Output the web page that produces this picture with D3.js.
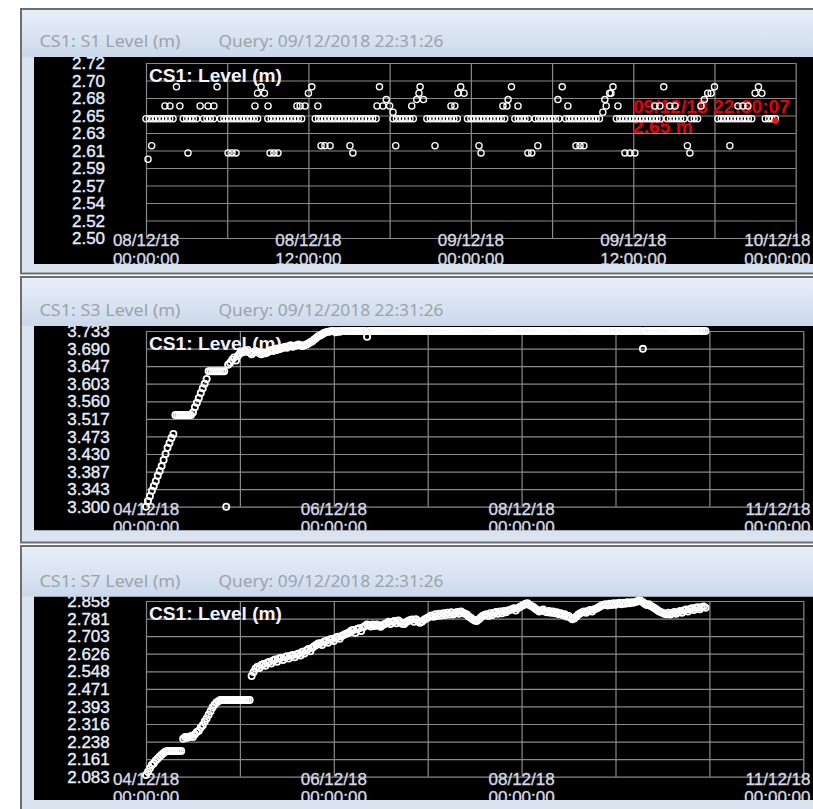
<!DOCTYPE html>
<html>
<head>
<meta charset="utf-8">
<script src="https://cdn.jsdelivr.net/npm/d3@7/dist/d3.min.js"></script>
<style>
  html, body { margin: 0; padding: 0; background: #ffffff; }
  svg { display: block; }
  .win-title { font-family: "Noto Sans", "Open Sans", sans-serif; font-size: 16px; fill: #9da2a9; }
  .y-lbl { font-family: "Liberation Sans", Arial, sans-serif; font-size: 17px; fill: #eef0fa; stroke: #dfe4f6; stroke-width: 0.4; }
  .x-lbl { font-family: "Liberation Sans", Arial, sans-serif; font-size: 17px; fill: #d9dbe6; stroke: #cfd3e2; stroke-width: 0.35; }
  .plot-title { font-family: "Liberation Sans", Arial, sans-serif; font-size: 18px; font-weight: bold; fill: #f2f3ff; }
  .cursor-lbl { font-family: "Liberation Sans", Arial, sans-serif; font-size: 18px; font-weight: bold; fill: #e3000b; }
</style>
</head>
<body>
<svg id="chart" width="813" height="809"></svg>
<script>
// =====================
// DATA
// =====================
const queryStamp = "Query: 09/12/2018 22:31:26";
const plotTitle = "CS1: Level (m)";

// S1: regular reading every 15 minutes from 08/12/18 00:00
const s1Start = "2018-12-08T00:00:00";
const s1End = "2018-12-10T00:00:00";
const s1StepMinutes = 15;
const s1Values = [
  2.650, 2.650, 2.650, 2.650, 2.650, 2.650, 2.650, 2.650, 2.650, 2.690,
  2.666, 2.650, 2.650, 2.650, 2.650, 2.650, 2.666, 2.650, 2.650, 2.650,
  2.650, 2.690, 2.650, 2.650, 2.650, 2.650, 2.650, 2.650, 2.650, 2.650,
  2.650, 2.650, 2.650, 2.650, 2.690, 2.682, 2.650, 2.650, 2.650, 2.650,
  2.650, 2.650, 2.650, 2.650, 2.650, 2.650, 2.650, 2.666, 2.682, 2.690,
  2.650, 2.650, 2.650, 2.650, 2.650, 2.650, 2.650, 2.650, 2.650, 2.650,
  2.650, 2.650, 2.650, 2.650, 2.650, 2.650, 2.650, 2.650, 2.650, 2.690,
  2.666, 2.674, 2.666, 2.650, 2.650, 2.650, 2.650, 2.650, 2.650, 2.650,
  2.674, 2.690, 2.674, 2.650, 2.650, 2.650, 2.650, 2.650, 2.650, 2.650,
  2.650, 2.650, 2.650, 2.690, 2.682, 2.650, 2.650, 2.650, 2.650, 2.650,
  2.650, 2.650, 2.650, 2.650, 2.650, 2.650, 2.650, 2.674, 2.690, 2.650,
  2.650, 2.650, 2.650, 2.650, 2.607, 2.650, 2.650, 2.650, 2.650, 2.650,
  2.650, 2.650, 2.650, 2.690, 2.650, 2.650, 2.650, 2.650, 2.650, 2.650,
  2.650, 2.650, 2.650, 2.650, 2.650, 2.658, 2.666, 2.682, 2.690, 2.650,
  2.650, 2.650, 2.650, 2.650, 2.650, 2.650, 2.650, 2.650, 2.650, 2.650,
  2.650, 2.650, 2.650, 2.690, 2.650, 2.650, 2.650, 2.650, 2.650, 2.650,
  2.616, 2.650, 2.650, 2.650, 2.666, 2.674, 2.682, 2.682, 2.690, 2.650,
  2.650, 2.650, 2.650, 2.650, 2.650, 2.650, 2.650, 2.650, 2.650, 2.650,
  2.682, 2.690, 2.682, 2.650, 2.650, 2.650, 2.650
];
// S1: extra readings logged between the regular ones
const s1ExtraTimes = [
  "2018-12-08T00:09:00", "2018-12-08T00:25:00", "2018-12-08T01:24:00", "2018-12-08T01:46:00",
  "2018-12-08T03:06:00", "2018-12-08T04:35:00", "2018-12-08T05:01:00", "2018-12-08T06:04:00",
  "2018-12-08T06:21:00", "2018-12-08T06:39:00", "2018-12-08T08:03:00", "2018-12-08T08:14:00",
  "2018-12-08T09:01:00", "2018-12-08T09:10:00", "2018-12-08T09:27:00", "2018-12-08T09:45:00",
  "2018-12-08T11:09:00", "2018-12-08T11:23:00", "2018-12-08T12:42:00", "2018-12-08T12:56:00",
  "2018-12-08T13:13:00", "2018-12-08T13:36:00", "2018-12-08T15:04:00", "2018-12-08T15:17:00",
  "2018-12-08T17:04:00", "2018-12-08T18:15:00", "2018-12-08T18:27:00", "2018-12-08T19:38:00",
  "2018-12-08T20:10:00", "2018-12-08T21:21:00", "2018-12-08T22:32:00", "2018-12-08T22:49:00",
  "2018-12-08T23:03:00", "2018-12-09T00:36:00", "2018-12-09T00:45:00", "2018-12-09T02:22:00",
  "2018-12-09T02:40:00", "2018-12-09T03:29:00", "2018-12-09T04:13:00", "2018-12-09T04:57:00",
  "2018-12-09T06:26:00", "2018-12-09T07:10:00", "2018-12-09T07:46:00", "2018-12-09T08:04:00",
  "2018-12-09T08:21:00", "2018-12-09T09:54:00", "2018-12-09T10:21:00", "2018-12-09T10:52:00",
  "2018-12-09T11:23:00", "2018-12-09T11:45:00", "2018-12-09T12:07:00", "2018-12-09T13:36:00",
  "2018-12-09T13:58:00", "2018-12-09T14:42:00", "2018-12-09T15:05:00", "2018-12-09T16:11:00",
  "2018-12-09T19:08:00", "2018-12-09T19:44:00", "2018-12-09T20:06:00", "2018-12-09T20:28:00"
];
const s1ExtraValues = [
  2.599, 2.616, 2.666, 2.666,
  2.607, 2.666, 2.666, 2.607,
  2.607, 2.607, 2.666, 2.682,
  2.666, 2.607, 2.607, 2.607,
  2.666, 2.666, 2.666, 2.616,
  2.616, 2.616, 2.616, 2.607,
  2.666, 2.658, 2.616, 2.666,
  2.682, 2.616, 2.666, 2.666,
  2.682, 2.616, 2.607, 2.666,
  2.666, 2.666, 2.607, 2.616,
  2.674, 2.666, 2.616, 2.616,
  2.616, 2.674, 2.682, 2.666,
  2.607, 2.607, 2.607, 2.666,
  2.666, 2.666, 2.666, 2.607,
  2.616, 2.666, 2.666, 2.666
];
const s1YDomain = [2.50, 2.72];
const s1YLabels = ["2.50", "2.52", "2.54", "2.57", "2.59", "2.61", "2.63", "2.65", "2.68", "2.70", "2.72"];
const s1XLabelTimes = ["2018-12-08T00:00:00", "2018-12-08T12:00:00", "2018-12-09T00:00:00", "2018-12-09T12:00:00", "2018-12-10T00:00:00"];
const s1Cursor = { time: "2018-12-09T22:30:07", value: 2.65, label: "09/12/18 22:30:07", valueLabel: "2.65 m" };

// S3 and S7: one reading every 30 minutes from 04/12/18 00:00
const weekStart = "2018-12-04T00:00:00";
const weekEnd = "2018-12-11T00:00:00";
const weekStepMinutes = 30;
const s3Values = [
  3.300, 3.314, 3.326, 3.339, 3.351, 3.363, 3.376, 3.388, 3.400, 3.415,
  3.430, 3.445, 3.457, 3.469, 3.479, 3.526, 3.526, 3.526, 3.526, 3.526,
  3.526, 3.526, 3.526, 3.526, 3.532, 3.545, 3.556, 3.568, 3.580, 3.592,
  3.603, 3.615, 3.634, 3.634, 3.634, 3.634, 3.634, 3.634, 3.634, 3.634,
  3.634, 3.300, 3.650, 3.655, 3.662, 3.668, 3.660, 3.672, 3.678, 3.680,
  3.684, 3.682, 3.686, 3.680, 3.676, 3.680, 3.684, 3.682, 3.678, 3.676,
  3.680, 3.678, 3.680, 3.684, 3.686, 3.684, 3.688, 3.690, 3.688, 3.690,
  3.692, 3.694, 3.692, 3.696, 3.698, 3.694, 3.696, 3.698, 3.700, 3.698,
  3.696, 3.698, 3.700, 3.702, 3.705, 3.708, 3.712, 3.716, 3.720, 3.722,
  3.725, 3.728, 3.730, 3.731, 3.732, 3.733, 3.733, 3.730, 3.733, 3.731,
  3.733, 3.733, 3.733, 3.733, 3.733, 3.733, 3.733, 3.733, 3.733, 3.733,
  3.733, 3.733, 3.733, 3.719, 3.733, 3.733, 3.733, 3.733, 3.733, 3.733,
  3.733, 3.733, 3.733, 3.733, 3.733, 3.733, 3.733, 3.733, 3.733, 3.733,
  3.733, 3.733, 3.733, 3.733, 3.733, 3.733, 3.733, 3.733, 3.733, 3.733,
  3.733, 3.733, 3.733, 3.733, 3.733, 3.733, 3.733, 3.733, 3.733, 3.733,
  3.733, 3.733, 3.733, 3.733, 3.733, 3.733, 3.733, 3.733, 3.733, 3.733,
  3.733, 3.733, 3.733, 3.733, 3.733, 3.733, 3.733, 3.733, 3.733, 3.733,
  3.733, 3.733, 3.733, 3.733, 3.733, 3.733, 3.733, 3.733, 3.733, 3.733,
  3.733, 3.733, 3.733, 3.733, 3.733, 3.733, 3.733, 3.733, 3.733, 3.733,
  3.733, 3.733, 3.733, 3.733, 3.733, 3.733, 3.733, 3.733, 3.733, 3.733,
  3.733, 3.733, 3.733, 3.733, 3.733, 3.733, 3.733, 3.733, 3.733, 3.733,
  3.733, 3.733, 3.733, 3.733, 3.733, 3.733, 3.733, 3.733, 3.733, 3.733,
  3.733, 3.733, 3.733, 3.733, 3.733, 3.733, 3.733, 3.733, 3.733, 3.733,
  3.733, 3.733, 3.733, 3.733, 3.733, 3.733, 3.733, 3.733, 3.733, 3.733,
  3.733, 3.733, 3.733, 3.733, 3.733, 3.733, 3.733, 3.733, 3.733, 3.733,
  3.733, 3.733, 3.733, 3.733, 3.689, 3.733, 3.733, 3.733, 3.733, 3.733,
  3.733, 3.733, 3.733, 3.733, 3.733, 3.733, 3.733, 3.733, 3.733, 3.733,
  3.733, 3.733, 3.733, 3.733, 3.733, 3.733, 3.733, 3.733, 3.733, 3.733,
  3.733, 3.733, 3.733, 3.733, 3.733, 3.733, 3.733
];
const s3YDomain = [3.300, 3.733];
const s3YLabels = ["3.300", "3.343", "3.387", "3.430", "3.473", "3.517", "3.560", "3.603", "3.647", "3.690", "3.733"];

const s7Values = [
  2.090, 2.105, 2.120, 2.135, 2.142, 2.155, 2.163, 2.172, 2.180, 2.188,
  2.194, 2.196, 2.196, 2.196, 2.196, 2.196, 2.196, 2.196, 2.196, 2.250,
  2.258, 2.255, 2.258, 2.262, 2.258, 2.270, 2.280, 2.286, 2.300, 2.310,
  2.326, 2.340, 2.356, 2.372, 2.388, 2.400, 2.410, 2.416, 2.421, 2.421,
  2.421, 2.421, 2.421, 2.421, 2.421, 2.421, 2.421, 2.421, 2.421, 2.421,
  2.421, 2.421, 2.421, 2.421, 2.527, 2.545, 2.560, 2.568, 2.562, 2.576,
  2.580, 2.572, 2.586, 2.590, 2.582, 2.596, 2.600, 2.590, 2.604, 2.608,
  2.598, 2.610, 2.614, 2.604, 2.616, 2.620, 2.610, 2.622, 2.626, 2.618,
  2.634, 2.626, 2.640, 2.646, 2.636, 2.652, 2.658, 2.664, 2.670, 2.672,
  2.664, 2.678, 2.682, 2.674, 2.688, 2.690, 2.682, 2.696, 2.700, 2.692,
  2.704, 2.708, 2.712, 2.716, 2.720, 2.728, 2.730, 2.718, 2.734, 2.738,
  2.726, 2.742, 2.748, 2.754, 2.752, 2.746, 2.754, 2.748, 2.754, 2.750,
  2.744, 2.752, 2.756, 2.760, 2.766, 2.756, 2.766, 2.770, 2.760, 2.772,
  2.764, 2.758, 2.756, 2.764, 2.770, 2.774, 2.776, 2.766, 2.778, 2.770,
  2.762, 2.766, 2.774, 2.780, 2.784, 2.790, 2.794, 2.788, 2.800, 2.792,
  2.802, 2.794, 2.804, 2.796, 2.806, 2.798, 2.808, 2.798, 2.804, 2.810,
  2.802, 2.812, 2.806, 2.802, 2.798, 2.790, 2.784, 2.778, 2.772, 2.770,
  2.776, 2.784, 2.792, 2.796, 2.800, 2.792, 2.804, 2.796, 2.806, 2.810,
  2.802, 2.812, 2.804, 2.814, 2.808, 2.816, 2.818, 2.822, 2.826, 2.816,
  2.826, 2.832, 2.836, 2.840, 2.846, 2.848, 2.840, 2.836, 2.832, 2.824,
  2.818, 2.812, 2.816, 2.820, 2.812, 2.808, 2.814, 2.806, 2.812, 2.804,
  2.808, 2.800, 2.804, 2.796, 2.800, 2.790, 2.792, 2.784, 2.778, 2.782,
  2.790, 2.798, 2.804, 2.808, 2.812, 2.806, 2.814, 2.818, 2.812, 2.820,
  2.824, 2.828, 2.834, 2.838, 2.842, 2.844, 2.838, 2.846, 2.840, 2.848,
  2.842, 2.848, 2.850, 2.844, 2.850, 2.846, 2.852, 2.848, 2.852, 2.850,
  2.854, 2.856, 2.862, 2.858, 2.852, 2.846, 2.840, 2.844, 2.836, 2.832,
  2.826, 2.820, 2.814, 2.810, 2.806, 2.802, 2.800, 2.806, 2.798, 2.804,
  2.810, 2.802, 2.808, 2.814, 2.806, 2.816, 2.820, 2.812, 2.822, 2.826,
  2.818, 2.828, 2.830, 2.822, 2.830, 2.834, 2.828
];
const s7YDomain = [2.083, 2.858];
const s7YLabels = ["2.083", "2.161", "2.238", "2.316", "2.393", "2.471", "2.548", "2.626", "2.703", "2.781", "2.858"];

const weekXLabelTimes = ["2018-12-04T00:00:00", "2018-12-06T00:00:00", "2018-12-08T00:00:00", "2018-12-11T00:00:00"];

// =====================
// HELPERS
// =====================
const parseTime = d3.timeParse("%Y-%m-%dT%H:%M:%S");
const fmtDate = d3.timeFormat("%d/%m/%y");
const fmtClock = d3.timeFormat("%H:%M:%S");

function toPoints(start, stepMinutes, values) {
  const t0 = parseTime(start);
  return values.map((v, i) => ({ t: d3.timeMinute.offset(t0, i * stepMinutes), v }));
}

const s1Points = toPoints(s1Start, s1StepMinutes, s1Values)
  .concat(s1ExtraTimes.map((s, i) => ({ t: parseTime(s), v: s1ExtraValues[i] })))
  .sort((a, b) => a.t - b.t);

// =====================
// PANELS
// =====================
const panels = [
  {
    winTitle: "CS1: S1 Level (m)",
    frameTop: 8, clientTop: 57, clientBottom: 264, frameBottom: 274.5,
    plot: { left: 146, right: 795.7, top: 63, bottom: 238 },
    points: s1Points,
    xDomain: [s1Start, s1End], gridHours: 6,
    yDomain: s1YDomain, yLabels: s1YLabels,
    xLabelTimes: s1XLabelTimes, cursor: s1Cursor,
    markerStroke: 1.3
  },
  {
    winTitle: "CS1: S3 Level (m)",
    frameTop: 276, clientTop: 326, clientBottom: 530.5, frameBottom: 543.5,
    plot: { left: 146, right: 803.3, top: 331, bottom: 506.7 },
    points: toPoints(weekStart, weekStepMinutes, s3Values),
    xDomain: [weekStart, weekEnd], gridHours: 24,
    yDomain: s3YDomain, yLabels: s3YLabels,
    xLabelTimes: weekXLabelTimes,
    markerStroke: 1.8
  },
  {
    winTitle: "CS1: S7 Level (m)",
    frameTop: 545, clientTop: 596.5, clientBottom: 800, frameBottom: 813,
    plot: { left: 146, right: 803.3, top: 601, bottom: 776.7 },
    points: toPoints(weekStart, weekStepMinutes, s7Values),
    xDomain: [weekStart, weekEnd], gridHours: 24,
    yDomain: s7YDomain, yLabels: s7YLabels,
    xLabelTimes: weekXLabelTimes,
    markerStroke: 1.8
  }
];

const svg = d3.select("#chart");
const defs = svg.append("defs");

const grad = defs.append("linearGradient")
  .attr("id", "titlebar")
  .attr("x1", 0).attr("y1", 0).attr("x2", 0).attr("y2", 1);
grad.append("stop").attr("offset", "0%").attr("stop-color", "#e6eef8");
grad.append("stop").attr("offset", "60%").attr("stop-color", "#d8e3f1");
grad.append("stop").attr("offset", "100%").attr("stop-color", "#c9d8ea");

panels.forEach((p, idx) => drawPanel(p, idx));

function drawPanel(p, idx) {
  const g = svg.append("g");

  // window frame
  g.append("rect")
    .attr("x", 21).attr("y", p.frameTop + 1)
    .attr("width", 800).attr("height", p.frameBottom - p.frameTop - 2)
    .attr("fill", "#dae4f1")
    .attr("stroke", "#6e6e6e")
    .attr("stroke-width", 2);

  g.append("rect")
    .attr("x", 22).attr("y", p.frameTop + 2)
    .attr("width", 791).attr("height", p.clientTop - p.frameTop - 2)
    .attr("fill", "url(#titlebar)");

  g.append("text")
    .attr("class", "win-title")
    .attr("x", 39.5).attr("y", p.clientTop - 10)
    .attr("textLength", 141).attr("lengthAdjust", "spacingAndGlyphs")
    .text(p.winTitle);

  g.append("text")
    .attr("class", "win-title")
    .attr("x", 218.5).attr("y", p.clientTop - 10)
    .attr("textLength", 225).attr("lengthAdjust", "spacingAndGlyphs")
    .text(queryStamp);

  // client area (black), everything inside is clipped to it
  const clipId = "client-" + idx;
  defs.append("clipPath").attr("id", clipId)
    .append("rect")
    .attr("x", 34).attr("y", p.clientTop)
    .attr("width", 779).attr("height", p.clientBottom - p.clientTop);

  const c = g.append("g").attr("clip-path", `url(#${clipId})`);
  c.append("rect")
    .attr("x", 34).attr("y", p.clientTop)
    .attr("width", 779).attr("height", p.clientBottom - p.clientTop)
    .attr("fill", "#000");

  // =====================
  // SCALES
  // =====================
  const t0 = parseTime(p.xDomain[0]), t1 = parseTime(p.xDomain[1]);
  const x = d3.scaleTime().domain([t0, t1]).range([p.plot.left, p.plot.right]);
  const y = d3.scaleLinear().domain(p.yDomain).range([p.plot.bottom, p.plot.top]);

  const w = p.plot.right - p.plot.left;
  const h = p.plot.bottom - p.plot.top;
  const yTickVals = p.yLabels.map((_, k) => p.yDomain[0] + k * (p.yDomain[1] - p.yDomain[0]) / (p.yLabels.length - 1));
  const gridTimes = d3.timeHour.every(p.gridHours).range(t0, new Date(+t1 + 1));

  // =====================
  // GRID
  // =====================
  c.append("g")
    .attr("transform", `translate(0,${p.plot.bottom})`)
    .call(d3.axisBottom(x).tickValues(gridTimes).tickSize(-h).tickFormat(""))
    .call(a => a.select(".domain").remove())
    .selectAll("line")
    .attr("stroke", "#8a8a8a")
    .attr("stroke-width", 1.2);

  c.append("g")
    .attr("transform", `translate(${p.plot.left},0)`)
    .call(d3.axisLeft(y).tickValues(yTickVals).tickSize(-w).tickFormat(""))
    .call(a => a.select(".domain").remove())
    .selectAll("line")
    .attr("stroke", "#8a8a8a")
    .attr("stroke-width", 1.2);

  // =====================
  // Y LABELS
  // =====================
  c.append("g").selectAll("text")
    .data(yTickVals)
    .join("text")
    .attr("class", "y-lbl")
    .attr("text-anchor", "middle")
    .attr("x", 88.5)
    .attr("y", d => y(d))
    .attr("dy", "0.36em")
    .text((d, k) => p.yLabels[k]);

  // =====================
  // X LABELS (date over time)
  // =====================
  p.xLabelTimes.forEach(s => {
    const t = parseTime(s);
    const lines = [fmtDate(t), fmtClock(t)];
    lines.forEach((txt, li) => {
      const el = c.append("text")
        .attr("class", "x-lbl")
        .attr("y", p.plot.bottom + 2 + li * 18.5)
        .attr("dy", "0.36em")
        .text(txt);
      const tw = el.node().getComputedTextLength();
      let left = x(t) - tw / 2;
      if (left + tw > 810.5) left = 810.5 - tw;
      el.attr("x", left);
    });
  });

  // plot title
  c.append("text")
    .attr("class", "plot-title")
    .attr("x", p.plot.left + 3)
    .attr("y", p.plot.top + 19)
    .attr("textLength", 133).attr("lengthAdjust", "spacingAndGlyphs")
    .text(plotTitle);

  // cursor readout (under the markers)
  let cx, cy;
  if (p.cursor) {
    cx = x(parseTime(p.cursor.time));
    cy = y(p.cursor.value);
    c.append("text")
      .attr("class", "cursor-lbl")
      .attr("x", cx - 142.5).attr("y", p.plot.top + 50)
      .attr("textLength", 157).attr("lengthAdjust", "spacingAndGlyphs")
      .text(p.cursor.label);
    c.append("text")
      .attr("class", "cursor-lbl")
      .attr("x", cx - 142.5).attr("y", p.plot.top + 70)
      .attr("textLength", 60).attr("lengthAdjust", "spacingAndGlyphs")
      .text(p.cursor.valueLabel);
  }

  // =====================
  // MARKERS
  // =====================
  c.append("g").selectAll("circle")
    .data(p.points)
    .join("circle")
    .attr("cx", d => x(d.t))
    .attr("cy", d => y(d.v))
    .attr("r", 3.1)
    .attr("fill", "none")
    .attr("stroke", "#ffffff")
    .attr("stroke-width", p.markerStroke);

  if (p.cursor) {
    c.append("circle")
      .attr("cx", cx).attr("cy", cy + 2)
      .attr("r", 3.2)
      .attr("fill", "#ff1010");
  }
}
</script>
</body>
</html>
